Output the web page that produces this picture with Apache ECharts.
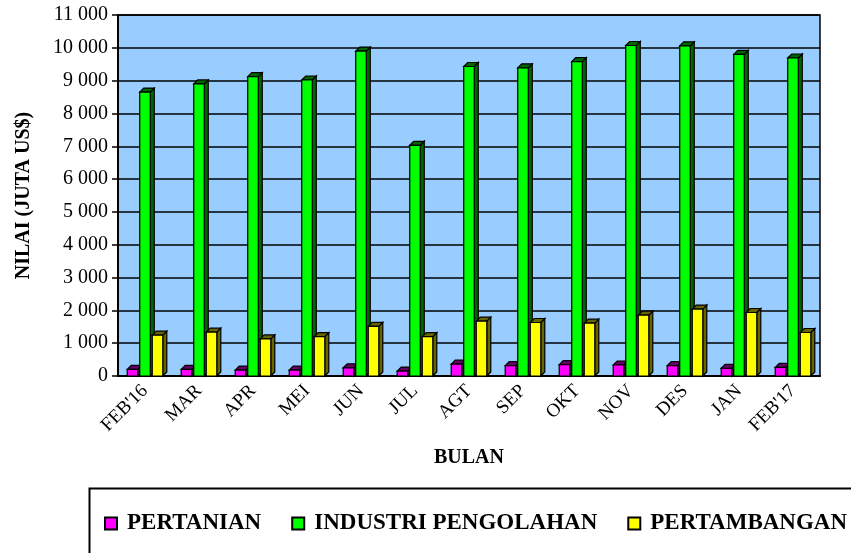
<!DOCTYPE html>
<html>
<head>
<meta charset="utf-8">
<script src="https://cdn.jsdelivr.net/npm/echarts@6/dist/echarts.min.js"></script>
<style>
  html, body { margin: 0; padding: 0; background: #fff; }
  #chart { width: 851px; height: 553px; }
</style>
</head>
<body>
<div id="chart"></div>
<script>
var months = ['FEB\'16', 'MAR', 'APR', 'MEI', 'JUN', 'JUL', 'AGT', 'SEP', 'OKT', 'NOV', 'DES', 'JAN', 'FEB\'17']
var pertanian = [200, 200, 180, 180, 250, 150, 360, 315, 345, 335, 315, 235, 265]
var industri = [8650, 8900, 9120, 9020, 9900, 7030, 9430, 9390, 9580, 10070, 10060, 9800, 9690]
var pertambangan = [1245, 1335, 1130, 1200, 1510, 1200, 1670, 1630, 1610, 1855, 2040, 1935, 1325]
var yTicks = [0, 1000, 2000, 3000, 4000, 5000, 6000, 7000, 8000, 9000, 10000, 11000]

var serif = '"Liberation Serif", "DejaVu Serif", serif'

// draws one bar with a small 3D look (front, top, right side)
function bar3d (slot, front, dark) {
  return function (params, api) {
    var idx = api.value(0)
    var top = api.coord([idx, api.value(1)])
    var base = api.coord([idx, 0])
    var band = api.size([1, 0])[0]
    var bw = band * 0.195
    var step = band * 0.232
    var d = 4
    var x = top[0] + slot * step - bw / 2
    var y = top[1]
    var y0 = base[1]
    var stroke = { stroke: '#000', lineWidth: 1.2 }
    return {
      type: 'group',
      children: [
        {
          type: 'polygon',
          shape: { points: [[x + bw, y], [x + bw + d, y - d], [x + bw + d, y0 - d], [x + bw, y0]] },
          style: Object.assign({ fill: dark }, stroke)
        },
        {
          type: 'polygon',
          shape: { points: [[x, y], [x + d, y - d], [x + bw + d, y - d], [x + bw, y]] },
          style: Object.assign({ fill: dark }, stroke)
        },
        {
          type: 'rect',
          shape: { x: x, y: y, width: bw, height: y0 - y },
          style: Object.assign({ fill: front }, stroke)
        }
      ]
    }
  }
}

function toData (arr) {
  return arr.map(function (v, i) { return [i, v] })
}

var chart = echarts.init(document.getElementById('chart'))
chart.setOption({
  animation: false,
  backgroundColor: '#fff',
  grid: {
    left: 118,
    right: 31,
    top: 15,
    bottom: 177,
    show: true,
    backgroundColor: '#99CCFF',
    borderColor: '#000',
    borderWidth: 1.5
  },
  legend: {
    left: 104,
    top: 512,
    width: 747,
    padding: 0,
    itemWidth: 12,
    itemHeight: 12,
    itemGap: 30,
    icon: 'rect',
    itemStyle: { borderColor: '#000', borderWidth: 2 },
    textStyle: { fontFamily: serif, fontWeight: 'bold', fontSize: 23, color: '#000', padding: [0, 0, 0, 5] },
    data: ['PERTANIAN', 'INDUSTRI PENGOLAHAN', 'PERTAMBANGAN']
  },
  graphic: [
    {
      type: 'rect',
      left: 87,
      top: 486,
      shape: { width: 800, height: 100 },
      style: { fill: 'none', stroke: '#000', lineWidth: 2 },
      z: -1
    }
  ],
  xAxis: {
    type: 'category',
    data: months,
    name: 'BULAN',
    nameLocation: 'middle',
    nameGap: 72,
    nameTextStyle: { fontFamily: serif, fontWeight: 'bold', fontSize: 20, color: '#000' },
    axisLine: { lineStyle: { color: '#000', width: 2 } },
    axisTick: { length: 6, lineStyle: { color: '#000', width: 1.5 } },
    axisLabel: {
      rotate: 45,
      margin: 12,
      fontFamily: serif,
      fontSize: 19,
      color: '#000'
    }
  },
  yAxis: {
    type: 'value',
    min: 0,
    max: 11000,
    interval: 1000,
    name: 'NILAI (JUTA US$)',
    nameLocation: 'middle',
    nameGap: 84,
    nameTextStyle: { fontFamily: serif, fontWeight: 'bold', fontSize: 20, color: '#000' },
    axisLine: { show: true, lineStyle: { color: '#000', width: 2 } },
    axisTick: { show: true, length: 6, lineStyle: { color: '#000', width: 1.5 } },
    splitLine: { lineStyle: { color: '#000', width: 1.5 } },
    axisLabel: {
      margin: 10,
      fontFamily: serif,
      fontSize: 20,
      color: '#000',
      customValues: yTicks,
      formatter: function (v) {
        return String(v).replace(/\B(?=(\d{3})+(?!\d))/g, ' ')
      }
    }
  },
  series: [
    {
      name: 'PERTANIAN',
      type: 'custom',
      renderItem: bar3d(-1, '#FF00FF', '#660066'),
      itemStyle: { color: '#FF00FF', borderColor: '#000', borderWidth: 1.5 },
      encode: { x: 0, y: 1 },
      data: toData(pertanian)
    },
    {
      name: 'INDUSTRI PENGOLAHAN',
      type: 'custom',
      renderItem: bar3d(0, '#00FF00', '#006600'),
      itemStyle: { color: '#00FF00', borderColor: '#000', borderWidth: 1.5 },
      encode: { x: 0, y: 1 },
      data: toData(industri)
    },
    {
      name: 'PERTAMBANGAN',
      type: 'custom',
      renderItem: bar3d(1, '#FFFF00', '#666600'),
      itemStyle: { color: '#FFFF00', borderColor: '#000', borderWidth: 1.5 },
      encode: { x: 0, y: 1 },
      data: toData(pertambangan)
    }
  ]
})
</script>
</body>
</html>
